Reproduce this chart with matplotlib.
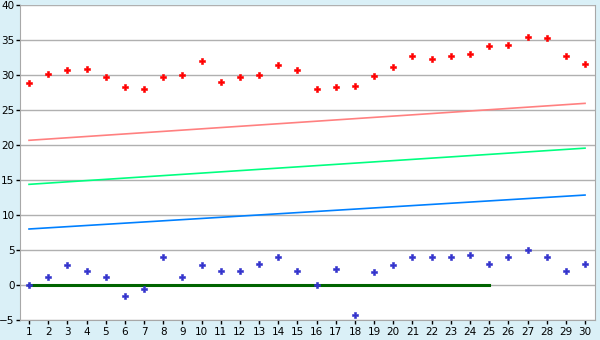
import numpy as np
import matplotlib.pyplot as plt

# Данные
x = np.arange(1, 31)
red_vals = [28.8, 30.1, 30.67, 30.8, 29.67, 28.24, 27.95, 29.67, 29.95, 31.95,
            28.95, 29.67, 29.95, 31.38, 30.67, 27.95, 28.24, 28.38, 29.81, 31.1,
            32.67, 32.24, 32.67, 32.95, 34.1, 34.24, 35.38, 35.24, 32.67, 31.52]
blue_vals = [0, 1.14, 2.86, 2.0, 1.14, -1.57, -0.57, 4.0, 1.14, 2.86,
             2.0, 2.0, 3.0, 4.0, 2.0, 0, 2.29, -4.29, 1.86, 2.86,
             4.0, 4.0, 4.0, 4.29, 3.0, 4.0, 5.0, 4.0, 2.0, 3.0]
trend_x = [1, 30]
trend_red = [20.67, 25.95]
trend_green = [14.38, 19.55]
trend_blue = [8.0, 12.85]
zero_x = [1, 25]
zero_y = [0, 0]

fig = plt.figure(figsize=(6, 3.4), dpi=100, facecolor='#daf0f7')
ax = fig.add_axes([20 / 600, 20 / 340, 575 / 600, 315 / 340])
ax.set_facecolor('white')

ax.grid(True, axis='y', color='#b0b0b0', linewidth=1)
ax.set_axisbelow(True)

ax.plot(trend_x, trend_red, color='#ff8080', linewidth=1.2)
ax.plot(trend_x, trend_green, color='#00ff80', linewidth=1.2)
ax.plot(trend_x, trend_blue, color='#0080ff', linewidth=1.2)
ax.plot(zero_x, zero_y, color='#006400', linewidth=2.2)

ax.plot(x, red_vals, 'P', color='#ff0000', markersize=5, markeredgewidth=0.4)
ax.plot(x, blue_vals, 'P', color='#3333cc', markersize=5, markeredgewidth=0.4)

ax.set_xlim(0.53, 30.52)
ax.set_ylim(-5, 40)
ax.set_xticks(x)
ax.set_yticks(range(-5, 41, 5))

for s in ['left', 'bottom', 'right']:
    ax.spines[s].set_color('#a8a8a8')
ax.spines['top'].set_visible(False)
ax.tick_params(axis='both', colors='black', labelsize=7.5, length=3, width=1, pad=2)
ax.tick_params(axis='y', pad=1)

fig.savefig('out.png', dpi=100, facecolor=fig.get_facecolor())
